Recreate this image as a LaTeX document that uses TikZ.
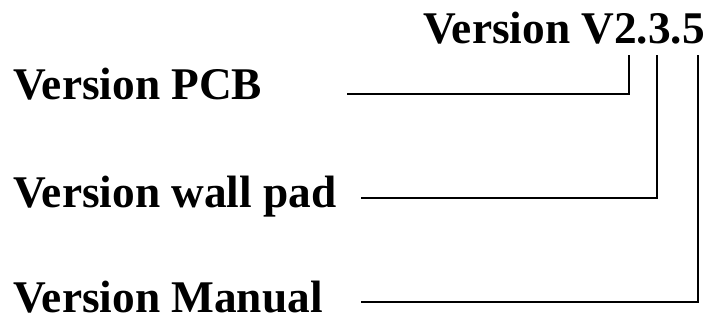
\documentclass[tikz,border=0pt]{standalone}
\usepackage{fontspec}
\setmainfont{Liberation Serif}
\usepackage{tikz}

\begin{document}
\begin{tikzpicture}[x=0.75pt,y=-0.75pt,
        lbl/.style={anchor=base west, inner sep=0pt, font=\fontsize{34}{40}\selectfont\bfseries},
        lead/.style={line width=1.2pt}]
        \useasboundingbox (0,0) rectangle (712,320);

        % Version number on top
        \node[lbl] (ver) at (423,44) {Version V2.3.5};

        % Labels for the digits
        \node[lbl] (pcb) at (13,100) {Version PCB};
        \node[lbl] (wall) at (13,207) {Version wall pad};
        \node[lbl] (man) at (13,312) {Version Manual};

        % Draw the leader lines up to the digits
        \foreach \n/\xs/\xt/\y in {pcb/347/629/94, wall/361/657/198, man/361/698/302} {
            \coordinate (\n-s) at (\xs,\y);
            \coordinate (\n-t) at (\xt,55);
            \draw[lead] (\n-s) -| (\n-t);
        }
    \end{tikzpicture}
\end{document}
